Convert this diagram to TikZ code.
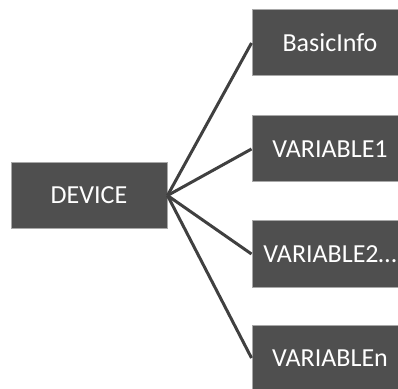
\documentclass[tikz,border=0pt]{standalone}
\usepackage{fontspec}
\setmainfont{Carlito}
\definecolor{boxfill}{HTML}{4F4F4F}
\definecolor{boxedge}{HTML}{A8A8A8}
\definecolor{wire}{HTML}{404040}
\tikzset{
  x=1pt, y=1pt,
  item/.style={draw=boxedge, line width=1pt, fill=boxfill, text=white,
    minimum width=156pt, minimum height=66pt, inner sep=0pt,
    font=\fontsize{26}{30}\selectfont},
  link/.style={draw=wire, line width=3pt}
}
\begin{document}
\begin{tikzpicture}
  \useasboundingbox (0,0) rectangle (398,388);
  \clip (0,0) rectangle (398,388);
  \node[item] (dev) at (89,192.5) {DEVICE};
  \node[item] (info) at (330,345) {BasicInfo};
  \node[item] (v1) at (330,239) {VARIABLE1};
  \node[item] (v2) at (330,134) {VARIABLE2\dots};
  \node[item] (vn) at (330,30) {VARIABLEn};
  \foreach \t in {info,v1,v2,vn}
    \draw[link] (dev.east) -- (\t.west);
\end{tikzpicture}
\end{document}
